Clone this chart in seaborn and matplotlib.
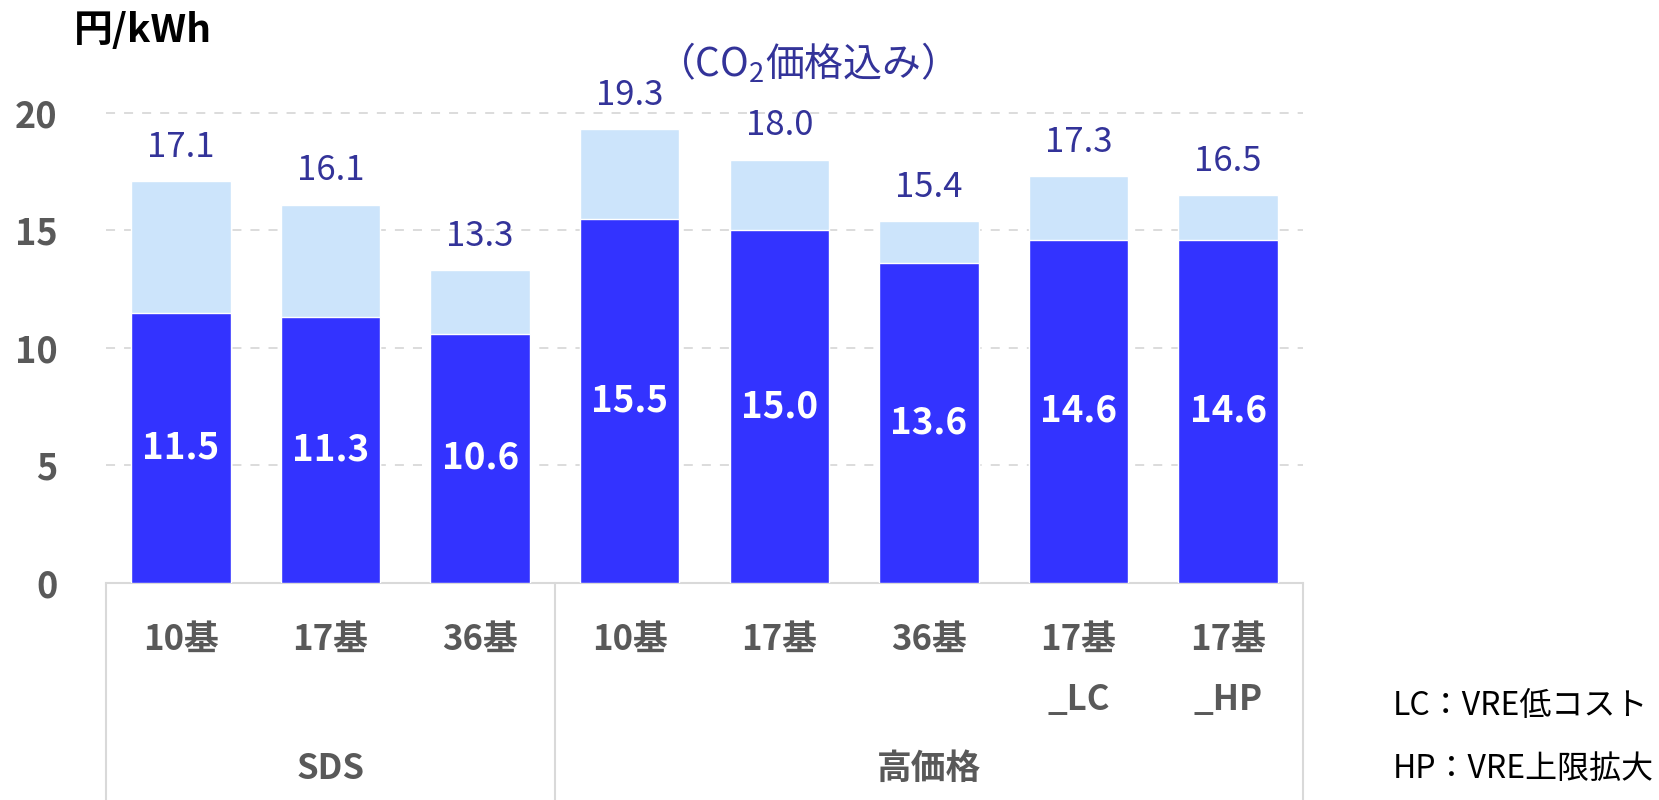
import matplotlib
matplotlib.use("Agg")
import matplotlib.pyplot as plt
import seaborn as sns
import pandas as pd

groups = ["SDS", "SDS", "SDS", "高価格", "高価格", "高価格", "高価格", "高価格"]
cases = ["10基", "17基", "36基", "10基", "17基", "36基", "17基", "17基"]
suffixes = ["", "", "", "", "", "", "_LC", "_HP"]
base_values = [11.5, 11.3, 10.6, 15.5, 15.0, 13.6, 14.6, 14.6]
total_values = [17.1, 16.1, 13.3, 19.3, 18.0, 15.4, 17.3, 16.5]
group_names = ["SDS", "高価格"]
y_ticks = [0, 5, 10, 15, 20]
notes = ["LC：VRE低コスト", "HP：VRE上限拡大"]

sns.set_theme(style="white")
plt.rcParams["font.family"] = ["Noto Sans CJK JP", "DejaVu Sans"]
plt.rcParams["mathtext.fontset"] = "custom"
plt.rcParams["mathtext.rm"] = "Noto Sans CJK JP"

dark = "#3333FF"
light = "#CCE4FB"
navy = "#333399"
gray = "#595959"

keys = [f"{g}|{c}{s}" for g, c, s in zip(groups, cases, suffixes)]
df = pd.DataFrame({"key": keys, "base": base_values, "total": total_values})

fig = plt.figure(figsize=(16.59, 8.0), dpi=100)
ax = fig.add_axes([0.0639, 0.27125, 0.7215, 0.6169])

sns.barplot(data=df, x="key", y="total", order=keys, color=light, width=0.665,
            saturation=1, ax=ax, zorder=2)
sns.barplot(data=df, x="key", y="base", order=keys, color=dark, width=0.665,
            saturation=1, ax=ax, zorder=3)

ax.set_xlim(-0.5, len(keys) - 0.5)
ax.set_ylim(0, 21)
ax.set_yticks(y_ticks)
ax.set_yticklabels([str(t) for t in y_ticks], fontsize=26, fontweight="bold", color=gray)
ax.tick_params(axis="y", length=0, pad=35)
ax.set_xticks([])
ax.set_xlabel("")
ax.set_ylabel("")
for sp in ["top", "right", "left"]:
    ax.spines[sp].set_visible(False)
ax.spines["bottom"].set_color("#D9D9D9")
ax.spines["bottom"].set_linewidth(1.5)
for t in y_ticks[1:]:
    ax.axhline(t, color="#D9D9D9", linestyle=(0, (5, 5)), linewidth=1.3, zorder=1)

for i, (b, t) in enumerate(zip(base_values, total_values)):
    ax.text(i, b / 2, f"{b:.1f}", ha="center", va="center", fontsize=26.5,
            fontweight="bold", color="white", zorder=5)
    ax.text(i, t + 1.45, f"{t:.1f}", ha="center", va="center", fontsize=25,
            color=navy, zorder=5)

# category labels
for i, (c, s) in enumerate(zip(cases, suffixes)):
    ax.text(i, -2.4, c, ha="center", va="center", fontsize=25, fontweight="bold",
            color=gray, clip_on=False)
    if s:
        ax.text(i, -4.95, s, ha="center", va="center", fontsize=25, fontweight="bold",
                color=gray, clip_on=False)

# group labels and box lines
bottom = -9.3
starts = {}
for i, g in enumerate(groups):
    starts.setdefault(g, []).append(i)
for g in group_names:
    idx = starts[g]
    cx = (idx[0] + idx[-1]) / 2
    ax.text(cx, -7.9, g, ha="center", va="center", fontsize=25, fontweight="bold",
            color=gray, clip_on=False)
bounds = [-0.5] + [starts[g][-1] + 0.5 for g in group_names]
for x in bounds:
    ax.plot([x, x], [0, bottom], color="#D9D9D9", linewidth=1.5, clip_on=False)

# notes
ax.text(8.1, -5.25, notes[0], ha="left", va="center", fontsize=23, color="black",
        clip_on=False)
ax.text(8.1, -7.9, notes[1], ha="left", va="center", fontsize=23, color="black",
        clip_on=False)

fig.text(0.0446, 0.962, "円/kWh", ha="left", va="center", fontsize=28,
         fontweight="bold", color="black")
fig.text(0.4793, 0.92, "（CO$_2$価格込み）", ha="center", va="center", fontsize=28,
         color=navy)

fig.savefig("out.png", dpi=100)
